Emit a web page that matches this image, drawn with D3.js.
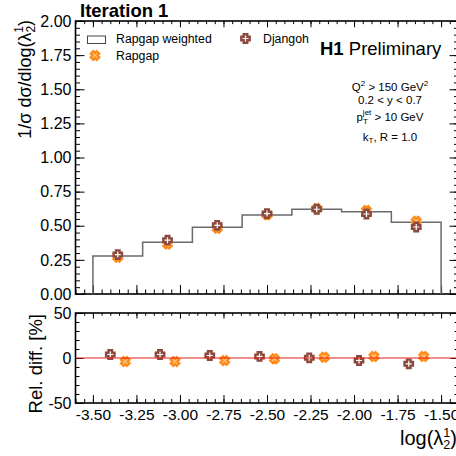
<!DOCTYPE html>
<html>
<head>
<meta charset="UTF-8">
<title>Iteration 1</title>
<style>
  body { margin: 0; background: #fff; }
  svg { display: block; font-family: "Liberation Sans", Arial, sans-serif; }
  .tick text { font-family: "Liberation Sans", Arial, sans-serif; fill: #000; }
</style>
<script src="https://cdn.jsdelivr.net/npm/d3@7"></script>
</head>
<body>
<svg id="chart" width="456" height="456"></svg>
<script>
// bin edges of log(lambda_2^1), 7 bins
var binEdges = [-3.5, -3.2143, -2.9286, -2.6429, -2.3571, -2.0714, -1.7857, -1.5];
// normalised cross section, upper panel
var rapgapWeighted = [0.278, 0.379, 0.489, 0.579, 0.620, 0.603, 0.525];
var rapgap         = [0.268, 0.366, 0.482, 0.580, 0.626, 0.613, 0.534];
var djangoh        = [0.289, 0.394, 0.503, 0.589, 0.621, 0.586, 0.491];
// relative difference to Rapgap weighted [%], lower panel
var relRapgap  = [-3.9, -3.9, -2.8, -0.9, 0.9, 1.7, 1.7];
var relDjangoh = [3.9, 3.9, 2.8, 1.7, 0.2, -2.8, -6.5];

var xMajor = [-3.5, -3.25, -3.0, -2.75, -2.5, -2.25, -2.0, -1.75, -1.5];
var yTopMajor = [0, 0.25, 0.5, 0.75, 1.0, 1.25, 1.5, 1.75, 2.0];
var yBotMajor = [-50, 0, 50];

var orange = "#ff8c1a", brown = "#8c4a3e";

var svg = d3.select("#chart");

var x = d3.scaleLinear().domain([-3.6, -1.4]).range([75.5, 458.5]);
var yTop = d3.scaleLinear().domain([0, 2]).range([294, 21]);
var yBot = d3.scaleLinear().domain([-50, 50]).range([403, 313]);

var centers = binEdges.slice(0, -1).map(function (e, i) { return (e + binEdges[i + 1]) / 2; });

function range(a, b, step) {
    var out = [];
    for (var v = a; v <= b + 1e-9; v += step) out.push(+v.toFixed(4));
    return out;
}

// ROOT-like frame: inward ticks on all four sides
function frame(yScale, yMajor, yMinorStep, labelFmt, majLen, minLen) {
    var x0 = x.range()[0], x1 = x.range()[1];
    var yb = yScale.range()[0], yt = yScale.range()[1];
    var g = svg.append("g");
    var xMinor = range(-3.6, -1.4, 0.05);
    var yd = yScale.domain();
    var yMinor = range(yd[0], yd[1], yMinorStep);

    function axisPair(axisFn, scale, vals, len, fmt, tr, cls) {
        g.append("g").attr("class", cls || null).attr("transform", tr)
            .call(axisFn(scale).tickValues(vals).tickSize(len).tickPadding(4).tickFormat(fmt))
            .call(function (s) { s.select(".domain").remove(); });
    }
    var none = function () { return ""; };
    // bottom
    axisPair(d3.axisBottom, x, xMinor, -minLen, none, "translate(0," + yb + ")");
    axisPair(d3.axisBottom, x, xMajor, -majLen, labelFmt ? function (d) { return d.toFixed(2); } : none,
        "translate(0," + yb + ")", "xlab");
    // top
    axisPair(d3.axisTop, x, xMinor, -minLen * 0.7, none, "translate(0," + yt + ")");
    axisPair(d3.axisTop, x, xMajor, -majLen * 0.7, none, "translate(0," + yt + ")");
    // left
    axisPair(d3.axisLeft, yScale, yMinor, -minLen, none, "translate(" + x0 + ",0)");
    axisPair(d3.axisLeft, yScale, yMajor, -majLen, function (d) { return yMinorStep < 1 ? d.toFixed(2) : String(d); },
        "translate(" + x0 + ",0)");
    // right
    axisPair(d3.axisRight, yScale, yMinor, -minLen, none, "translate(" + x1 + ",0)");
    axisPair(d3.axisRight, yScale, yMajor, -majLen, none, "translate(" + x1 + ",0)");

    g.selectAll(".tick line").attr("stroke", "#000").attr("stroke-width", 1);
    g.append("rect").attr("x", x0).attr("y", yt).attr("width", x1 - x0).attr("height", yb - yt)
        .attr("fill", "none").attr("stroke", "#000").attr("stroke-width", 1.6);
    return g;
}

var gTop = frame(yTop, yTopMajor, 0.05, false, 9, 4.5);
gTop.selectAll(".tick text").attr("font-size", 16);

var gBot = frame(yBot, yBotMajor, 10, true, 8, 4);
gBot.selectAll(".tick text").attr("font-size", 16);
gBot.selectAll(".xlab .tick text").attr("font-size", 15.5).attr("dy", "0.85em");

// histogram (Rapgap weighted)
var stepPts = [[binEdges[0], 0]];
rapgapWeighted.forEach(function (v, i) {
    stepPts.push([binEdges[i], v]);
    stepPts.push([binEdges[i + 1], v]);
});
stepPts.push([binEdges[binEdges.length - 1], 0]);
svg.append("path")
    .attr("d", d3.line().x(function (d) { return x(d[0]); }).y(function (d) { return yTop(d[1]); })(stepPts))
    .attr("fill", "none").attr("stroke", "#6a6a6a").attr("stroke-width", 1.5);

// marker shapes
function plusPath(L, a) {
    return "M" + [[-a, -L], [a, -L], [a, -a], [L, -a], [L, a], [a, a], [a, L], [-a, L], [-a, a], [-L, a], [-L, -a], [-a, -a]]
        .map(function (p) { return p.join(","); }).join("L") + "Z";
}
var crossD = plusPath(4.2, 1.8);

function drawMarkers(g, xs, ys, kind) {
    g.selectAll(null).data(xs).enter().append("path")
        .attr("d", crossD)
        .attr("transform", function (d, i) {
            return "translate(" + x(d) + "," + ys[i] + ")" + (kind === "rapgap" ? " rotate(45)" : "");
        })
        .attr("fill", kind === "rapgap" ? "#ffc784" : "#fff")
        .attr("stroke", kind === "rapgap" ? orange : brown)
        .attr("stroke-width", 2.4)
        .attr("stroke-linejoin", "miter");
}

var gm = svg.append("g");
drawMarkers(gm, centers, rapgap.map(yTop), "rapgap");
drawMarkers(gm, centers, djangoh.map(yTop), "djangoh");

// lower panel
svg.append("line").attr("x1", x.range()[0]).attr("x2", x.range()[1])
    .attr("y1", yBot(0)).attr("y2", yBot(0)).attr("stroke", "#e0201a").attr("stroke-width", 1.2);
var off = 0.043;
drawMarkers(gm, centers.map(function (c) { return c + off; }), relRapgap.map(yBot), "rapgap");
drawMarkers(gm, centers.map(function (c) { return c - off; }), relDjangoh.map(yBot), "djangoh");

// texts
svg.append("text").attr("x", 80).attr("y", 17).attr("font-size", 18.5).attr("font-weight", "bold").text("Iteration 1");

var yt1 = svg.append("text").attr("transform", "translate(31,20) rotate(-90)")
    .attr("text-anchor", "end").attr("font-size", 18);
yt1.append("tspan").text("1/σ dσ/dlog(λ");
yt1.append("tspan").attr("font-size", 12).attr("dy", 4).text("2");
yt1.append("tspan").attr("font-size", 12).attr("dx", -7).attr("dy", -12).text("1");
yt1.append("tspan").attr("dy", 8).text(")");

svg.append("text").attr("transform", "translate(42,314) rotate(-90)")
    .attr("text-anchor", "end").attr("font-size", 18.5).text("Rel. diff. [%]");

var xt = svg.append("text").attr("x", 400).attr("y", 445).attr("font-size", 20);
xt.append("tspan").text("log(λ");
xt.append("tspan").attr("font-size", 12.5).attr("dy", 4).text("2");
xt.append("tspan").attr("font-size", 12.5).attr("dx", -7).attr("dy", -12).text("1");
xt.append("tspan").attr("dy", 8).text(")");

// legend
svg.append("rect").attr("x", 87.5).attr("y", 36).attr("width", 18).attr("height", 7.5)
    .attr("fill", "none").attr("stroke", "#444").attr("stroke-width", 1);
svg.append("text").attr("x", 116).attr("y", 42.5).attr("font-size", 12.3).text("Rapgap weighted");
drawMarkers(gm, [x.invert(95)], [55.5], "rapgap");
svg.append("text").attr("x", 116).attr("y", 59.5).attr("font-size", 12.3).text("Rapgap");
drawMarkers(gm, [x.invert(245.5)], [38.5], "djangoh");
svg.append("text").attr("x", 263).attr("y", 42.5).attr("font-size", 12.3).text("Djangoh");

var h1 = svg.append("text").attr("x", 320).attr("y", 55).attr("font-size", 18.5);
h1.append("tspan").attr("font-weight", "bold").text("H1");
h1.append("tspan").text(" Preliminary");

var cx = 390, fs = 11.5;
var t1 = svg.append("text").attr("x", cx).attr("y", 91).attr("text-anchor", "middle").attr("font-size", fs);
t1.append("tspan").text("Q");
t1.append("tspan").attr("font-size", 8).attr("dy", -5).text("2");
t1.append("tspan").attr("dy", 5).text(" > 150 GeV");
t1.append("tspan").attr("font-size", 8).attr("dy", -5).text("2");

svg.append("text").attr("x", cx).attr("y", 104).attr("text-anchor", "middle").attr("font-size", fs).text("0.2 < y < 0.7");

var t3 = svg.append("text").attr("x", cx).attr("y", 121).attr("text-anchor", "middle").attr("font-size", fs);
t3.append("tspan").text("p");
t3.append("tspan").attr("font-size", 8).attr("dy", 3).text("T");
t3.append("tspan").attr("font-size", 8).attr("dx", -5).attr("dy", -9).text("jet");
t3.append("tspan").attr("dy", 6).text(" > 10 GeV");

var t4 = svg.append("text").attr("x", cx).attr("y", 141).attr("text-anchor", "middle").attr("font-size", fs);
t4.append("tspan").text("k");
t4.append("tspan").attr("font-size", 8).attr("dy", 2).text("T");
t4.append("tspan").attr("dy", -2).text(", R = 1.0");
</script>
</body>
</html>
